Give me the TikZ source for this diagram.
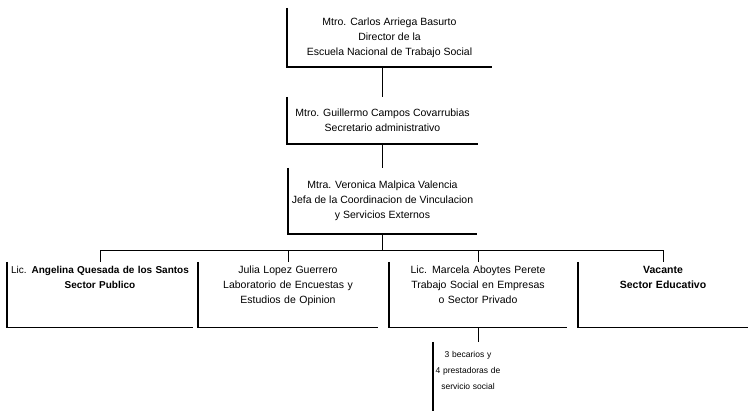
\documentclass[tikz,border=0pt]{standalone}
\usepackage{fontspec}
\setmainfont{Liberation Sans}
\begin{document}
\begin{tikzpicture}[x=1pt,y=1pt]
 \tikzset{topbox/.style={align=center, inner sep=2pt, font=\fontsize{10.5}{15}\selectfont}}
 \tikzset{lowbox/.style={align=center, anchor=north, inner sep=2pt, text height=9pt, text depth=52pt, font=\fontsize{10.5}{15}\selectfont}}
 \tikzset{frame/.style={line width=1.4pt}}
 \tikzset{link/.style={line width=0.9pt}}
  \useasboundingbox (0,0) rectangle (753,-411);
  \node[topbox, minimum width=205pt, minimum height=59pt] (dir) at (389.5,-37.5) {Mtro. Carlos Arriega Basurto\\Director de la\\Escuela Nacional de Trabajo Social};
  \node[topbox, minimum width=191pt, minimum height=47pt] (sec) at (382.5,-120.5) {Mtro. Guillermo Campos Covarrubias\\Secretario administrativo};
  \node[topbox, minimum width=189pt, minimum height=66pt] (jefa) at (382.5,-201) {Mtra. Veronica Malpica Valencia\\Jefa de la Coordinacion de Vinculacion\\y Servicios Externos};
  \node[lowbox, text width=182pt, font=\fontsize{10}{15}\selectfont] (pub) at (100,-262) {\mbox{Lic. \textbf{Angelina Quesada de los Santos}}\\\textbf{Sector Publico}};
  \node[lowbox, text width=176pt] (lab) at (288,-262) {Julia Lopez Guerrero\\Laboratorio de Encuestas y\\Estudios de Opinion};
  \node[lowbox, text width=174pt] (priv) at (478,-262) {Lic. Marcela Aboytes Perete\\Trabajo Social en Empresas\\o Sector Privado};
  \node[lowbox, text width=166pt] (edu) at (663,-262) {\textbf{Vacante}\\\textbf{Sector Educativo}};
  \node[lowbox, text width=66pt, text height=13pt, font=\fontsize{8.5}{16}\selectfont] (bec) at (468,-342) {3 becarios y\\4 prestadoras de\\servicio social};
  \coordinate (bus) at (0,-250);
  % box outlines
  \foreach \n in {dir,sec,jefa,pub,lab,priv,edu}
    \draw[frame] (\n.north west) |- (\n.south east);
  \draw[frame] (bec.north west) -- (bec.south west);
  % links
  \draw[link] (dir.south -| sec.north) -- (sec.north);
  \draw[link] (sec.south -| jefa.north) -- (jefa.north);
  \draw[link] (jefa.south) -- (jefa.south |- bus);
  \draw[link] (pub.north) |- (edu.north |- bus) -- (edu.north);
  \draw[link] (lab.north) -- (lab.north |- bus);
  \draw[link] (priv.north) -- (priv.north |- bus);
  \draw[link] (priv.south) -- (priv.south |- bec.north);
\end{tikzpicture}
\end{document}
